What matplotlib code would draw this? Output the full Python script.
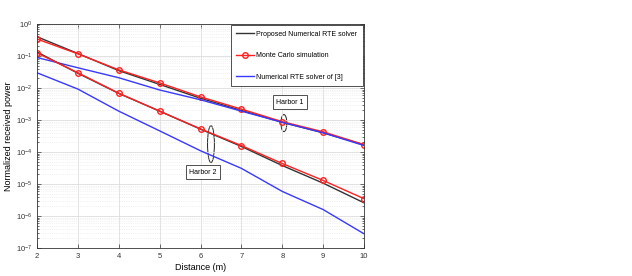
import matplotlib
matplotlib.use('Agg')
import matplotlib.pyplot as plt
from matplotlib.patches import Ellipse

plt.rcParams['font.family'] = ['Liberation Sans', 'DejaVu Sans']

distance = [2, 3, 4, 5, 6, 7, 8, 9, 10]

# Harbor 1
h1_proposed = [0.40, 0.12, 0.035, 0.013, 0.0048, 0.0020, 0.00085, 0.00040, 0.00017]
h1_mc = [0.34, 0.117, 0.037, 0.0145, 0.0053, 0.0022, 0.00089, 0.00043, 0.00017]
h1_ref3 = [0.09, 0.043, 0.021, 0.0087, 0.0043, 0.0019, 0.00085, 0.00040, 0.00016]

# Harbor 2
h2_proposed = [0.134, 0.029, 0.0068, 0.0019, 0.00052, 0.00015, 3.8e-5, 1.07e-5, 2.6e-6]
h2_mc = [0.125, 0.030, 0.0069, 0.0019, 0.00053, 0.00016, 4.4e-5, 1.3e-5, 3.5e-6]
h2_ref3 = [0.030, 0.0093, 0.0019, 0.00046, 0.00011, 3.1e-5, 5.9e-6, 1.6e-6, 2.8e-7]

fig = plt.figure(figsize=(6.32, 2.76), dpi=100)
ax = fig.add_axes([0.0585, 0.101, 0.5175, 0.812])

ax.semilogy(distance, h1_proposed, color='#333333', lw=1, label='Proposed Numerical RTE solver')
ax.semilogy(distance, h1_mc, color='#ff2020', lw=1, marker='o', ms=4, mfc='none',
            label='Monte Carlo simulation')
ax.semilogy(distance, h1_ref3, color='#3838ff', lw=1, label='Numerical RTE solver of [3]')
ax.semilogy(distance, h2_proposed, color='#333333', lw=1)
ax.semilogy(distance, h2_mc, color='#ff2020', lw=1, marker='o', ms=4, mfc='none')
ax.semilogy(distance, h2_ref3, color='#3838ff', lw=1)

ax.set_xlim(2, 10)
ax.set_ylim(1e-7, 1)
ax.set_xticks(distance)
ax.grid(True, which='major', color='#dddddd', lw=0.6)
ax.grid(True, which='minor', color='#e6e6e6', lw=0.5, ls=':')
ax.tick_params(labelsize=5.5, direction='in', which='both', top=True, right=True,
               length=3, width=0.5, colors='#333333')
ax.tick_params(which='minor', length=1.5)
for s in ax.spines.values():
    s.set_linewidth(0.6)
    s.set_color('#333333')
ax.set_xlabel('Distance (m)', fontsize=6.5, labelpad=2)
ax.set_ylabel('Normalized received power', fontsize=6.5, labelpad=2)

leg = ax.legend(loc='upper right', fontsize=5, fancybox=False, framealpha=1,
                edgecolor='#333333', borderpad=0.8, labelspacing=2.1, handlelength=2.6,
                handletextpad=0.3, borderaxespad=0.15)
leg.get_frame().set_linewidth(0.6)

bbox = dict(boxstyle='square,pad=0.5', fc='white', ec='#333333', lw=0.6)
ax.text(0.774, 0.652, 'Harbor 1', transform=ax.transAxes, fontsize=5,
        ha='center', va='center', bbox=bbox)
ax.text(0.508, 0.339, 'Harbor 2', transform=ax.transAxes, fontsize=5,
        ha='center', va='center', bbox=bbox)
ax.add_patch(Ellipse((0.755, 0.558), 0.018, 0.076, transform=ax.transAxes,
                     fill=False, ec='#222222', lw=0.7))
ax.add_patch(Ellipse((0.532, 0.464), 0.021, 0.165, transform=ax.transAxes,
                     fill=False, ec='#222222', lw=0.7))

fig.savefig('out.png', dpi=100)
